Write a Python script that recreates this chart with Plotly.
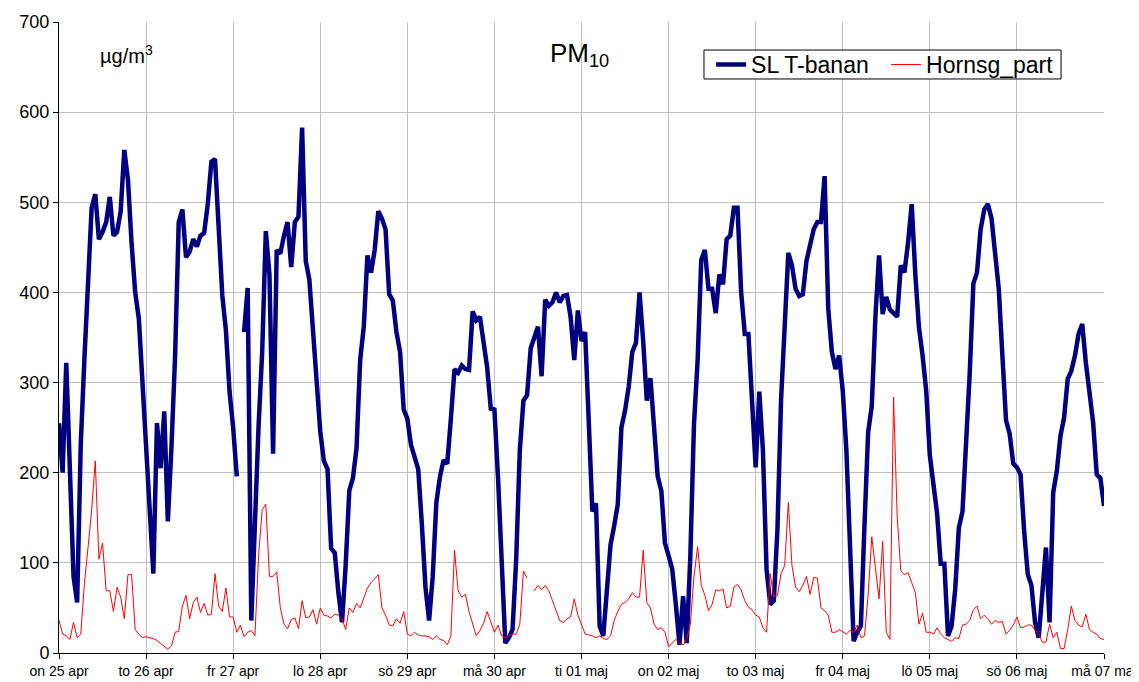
import pandas as pd
import plotly.graph_objects as go

# Hourly PM10 values (µg/m3), 25 apr 00:00 -> 07 maj 00:00
sl_tbanan = [
    255, 200, 322, 200, 85, 56, 232, 326, 420, 494, 509, 459, 467, 478, 506, 463, 467, 490, 558, 525, 455, 400, 371, 303,
    240, 163, 88, 255, 205, 268, 146, 229, 330, 478, 492, 439, 445, 459, 451, 463, 466, 498, 545, 548, 459, 397, 358, 290,
    250, 196, None, 356, 405, 36, 150, 252, 334, 468, 420, 221, 447, 443, 463, 478, 428, 478, 484, 583, 435, 414, 358, 295,
    246, 213, 204, 116, 111, 67, 34, 97, 180, 194, 227, 325, 362, 441, 422, 447, 490, 482, 470, 398, 391, 356, 334, 270,
    260, 231, 215, 204, 143, 73, 36, 85, 167, 196, 214, 210, 260, 315, 311, 319, 315, 314, 379, 369, 373, 346, 317, 271,
    270, 194, 108, 11, 17, 26, 104, 225, 280, 286, 338, 350, 362, 307, 392, 385, 389, 400, 389, 396, 397, 373, 325, 380,
    346, 356, 260, 157, 166, 30, 19, 63, 120, 141, 165, 250, 269, 295, 334, 344, 400, 346, 280, 305, 247, 196, 180, 122,
    108, 93, 54, 9, 63, 11, 108, 254, 324, 436, 447, 404, 404, 377, 420, 409, 459, 463, 494, 494, 400, 354, 354, 280,
    206, 290, 225, 93, 54, 58, 137, 281, 357, 444, 430, 404, 396, 398, 435, 455, 470, 478, 478, 529, 382, 334, 315, 330,
    291, 225, 124, 13, 23, 30, 143, 245, 274, 373, 441, 376, 395, 381, 377, 373, 430, 422, 455, 498, 420, 361, 330, 291,
    219, 190, 155, 99, 99, 19, 30, 71, 139, 157, 225, 311, 410, 422, 470, 492, 498, 482, 443, 404, 330, 258, 243, 210,
    206, 198, 135, 87, 75, 34, 17, 73, 117, 34, 178, 202, 241, 261, 304, 313, 330, 354, 365, 322, 291, 256, 198, 194,
    163,
]

hornsg_part = [
    36, 21, 19, 15, 34, 17, 21, 77, 117, 159, 213, 104, 122, 69, 69, 46, 73, 62, 38, 87, 87, 26, 21, 17,
    18, 17, 16, 14, 11, 7, 4, 8, 23, 24, 52, 64, 38, 56, 62, 45, 55, 42, 43, 88, 52, 46, 72, 40,
    40, 23, 31, 18, 23, 25, 19, 108, 159, 165, 85, 85, 90, 50, 32, 27, 37, 39, 27, 58, 39, 40, 48, 32,
    50, 42, 41, 39, 43, 42, 38, 26, 50, 45, 55, 50, 62, 72, 78, 83, 87, 50, 42, 31, 30, 38, 33, 46,
    21, 19, 23, 20, 19, 19, 18, 15, 19, 15, 14, 9, 19, 114, 69, 62, 65, 46, 31, 19, 25, 33, 46, 34,
    23, 31, 19, 17, 19, 21, 21, 32, 91, 83, None, 69, 75, 70, 75, 69, 58, 46, 36, 34, 38, 40, 60, 42,
    31, 21, 20, 19, 17, 19, 16, 15, 19, 36, 46, 54, 56, 60, 67, 62, 62, 114, 56, 50, 32, 26, 28, 23,
    7, 11, 15, 11, 9, 15, 32, 85, 118, 75, 64, 47, 54, 70, 69, 71, 50, 52, 73, 76, 70, 58, 51, 48,
    42, 40, 28, 23, 88, 62, 64, 88, 97, 167, 97, 73, 68, 75, 85, 65, 84, 83, 50, 47, 42, 23, 23, 26,
    23, 21, 25, 23, 31, 17, 19, 65, 129, 97, 60, 124, 23, 15, 284, 151, 91, 87, 89, 78, 67, 32, 44, 23,
    23, 21, 28, 21, 17, 15, 13, 17, 16, 31, 32, 36, 48, 52, 38, 42, 38, 32, 36, 34, 35, 21, 25, 31,
    40, 28, 29, 31, 31, 25, 21, 12, 12, 32, 17, 23, 5, 5, 26, 52, 36, 31, 29, 43, 26, 23, 21, 16,
    15,
]

day_labels = ["on 25 apr", "to 26 apr", "fr 27 apr", "lö 28 apr", "sö 29 apr", "må 30 apr",
              "ti 01 maj", "on 02 maj", "to 03 maj", "fr 04 maj", "lö 05 maj", "sö 06 maj", "må 07 maj"]

times = pd.date_range("2007-04-25 00:00", periods=len(sl_tbanan), freq="h")
days = pd.date_range("2007-04-25", periods=len(day_labels), freq="D")

FONT = "Liberation Sans, Arial, sans-serif"

fig = go.Figure()
fig.add_trace(go.Scatter(x=times, y=sl_tbanan, mode="lines", name="SL T-banan",
                         line=dict(color="#000080", width=4.5), connectgaps=False))
fig.add_trace(go.Scatter(x=times, y=hornsg_part, mode="lines", name="Hornsg_part",
                         line=dict(color="#ff0000", width=1), connectgaps=False))

fig.update_layout(
    width=1131, height=674, autosize=False,
    margin=dict(l=51, r=35, t=14, b=29, autoexpand=False),
    paper_bgcolor="white", plot_bgcolor="white",
    font=dict(family=FONT, color="black"),
    showlegend=True,
    legend=dict(orientation="h", x=0.624, y=0.9326, xanchor="left", yanchor="middle",
                borderwidth=0, bgcolor="rgba(0,0,0,0)",
                font=dict(size=23, family=FONT), tracegroupgap=0,
                itemwidth=30, entrywidth=130, entrywidthmode="pixels"),
    xaxis=dict(range=[days[0], days[-1]], tickvals=days, ticktext=day_labels,
               showgrid=True, gridcolor="#c0c0c0", gridwidth=1,
               ticks="outside", ticklen=5, tickcolor="black",
               showline=True, linecolor="black", linewidth=1, automargin=False,
               tickfont=dict(size=14, family=FONT), zeroline=False),
    yaxis=dict(range=[0, 700], dtick=100, tick0=0,
               showgrid=True, gridcolor="#c0c0c0", gridwidth=1,
               ticks="outside", ticklen=5, tickcolor="black",
               showline=True, linecolor="black", linewidth=1, automargin=False,
               tickfont=dict(size=18, family=FONT), zeroline=False),
    shapes=[
        dict(type="rect", xref="paper", yref="paper", x0=0.6172, x1=0.9589, y0=0.9097, y1=0.9556,
             line=dict(color="black", width=1), fillcolor="white", layer="above"),
    ],
    annotations=[
        dict(text="µg/m<sup>3</sup>", xref="paper", yref="paper", x=0.037, y=0.948,
             xanchor="left", yanchor="middle", showarrow=False,
             font=dict(size=20, family=FONT)),
        dict(text="PM<sub>10</sub>", xref="paper", yref="paper", x=0.4985, y=0.948,
             xanchor="center", yanchor="middle", showarrow=False,
             font=dict(size=26, family=FONT)),
    ],
)

fig.write_html("out.html")
